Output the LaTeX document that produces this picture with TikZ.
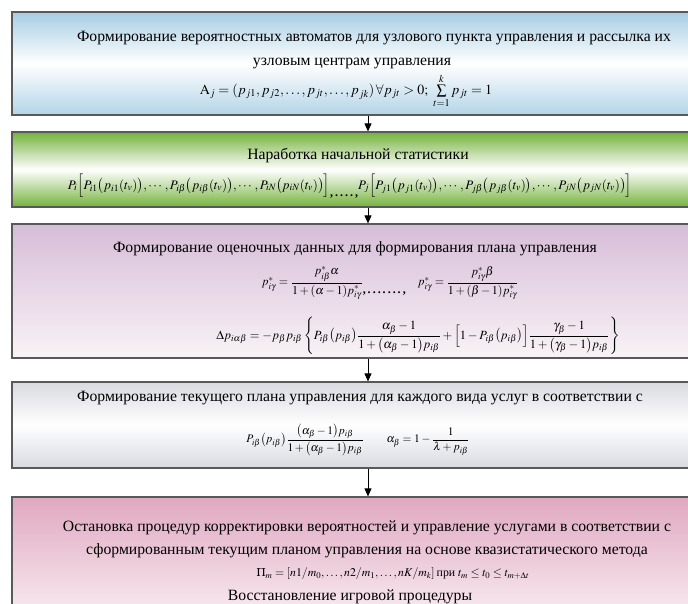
\documentclass[tikz,border=0pt]{standalone}
\usepackage{amsmath}
\usepackage{mathptmx}
\usepackage{fontspec}
\setmainfont{Liberation Serif}
\usetikzlibrary{arrows.meta}

\definecolor{skyedge}{HTML}{A6CDE3}
\definecolor{leafedge}{HTML}{74B23C}
\definecolor{lilactop}{HTML}{D7BDD8}
\definecolor{lilacbot}{HTML}{F8F3F6}
\definecolor{greyedge}{HTML}{D9DAE1}
\definecolor{rosetop}{HTML}{E0A8C0}
\definecolor{rosebot}{HTML}{FBF4F7}

\tikzset{
  stage/.style={draw=black!65, line width=1.2pt, minimum width=698pt, inner sep=0pt},
  skystage/.style={stage, top color=skyedge, bottom color=skyedge!85, middle color=white},
  leafstage/.style={stage, top color=leafedge, bottom color=leafedge, middle color=white},
  lilacstage/.style={stage, top color=lilactop, bottom color=lilacbot},
  greystage/.style={stage, top color=greyedge, bottom color=greyedge, middle color=white},
  rosestage/.style={stage, top color=rosetop, bottom color=rosebot},
  title/.style={font=\fontsize{15.7}{18}\selectfont, inner sep=0pt},
  formula/.style={font=\fontsize{12.5}{14}\selectfont, inner sep=0pt},
  flow/.style={-{Triangle[width=7pt,length=8pt]}, line width=0.9pt}
}

\begin{document}
\begin{tikzpicture}[x=1pt,y=-1pt]
        \useasboundingbox[fill=white] (0,0) rectangle (688,604);
        % stages
        \node[skystage, minimum height=103pt] (s1) at (361,63.5) {};
        \node[leafstage, minimum height=75pt] (s2) at (361,169.5) {};
        \node[lilacstage, minimum height=134pt] (s3) at (361,291) {};
        \node[greystage, minimum height=86pt] (s4) at (361,425) {};
        \node[rosestage, minimum height=134pt] (s5) at (361,564) {};
        % texts of stage 1
        \node[title] (t1a) at (374,38) {Формирование вероятностных автоматов для узлового пункта управления и рассылка их};
        \node[title] (t1b) at (352,63) {узловым центрам управления};
        \node[formula, font=\fontsize{14}{16}\selectfont] (f1) at (346,91) {$\mathrm{A}_j=(p_{j1},p_{j2},\dots,p_{jt},\dots,p_{jk})\,\forall p_{jt}>0;\ \sum\limits_{t=1}^{k}p_{jt}=1$};
        % texts of stage 2
        \node[title] (t2) at (358,156) {Наработка начальной статистики};
        \node[formula, font=\fontsize{13}{15}\selectfont] (f2) at (350,186) {$P_i\Bigl[P_{i1}\bigl(p_{i1}(t_v)\bigr),\cdots,P_{i\beta}\bigl(p_{i\beta}(t_v)\bigr),\cdots,P_{iN}\bigl(p_{iN}(t_v)\bigr)\Bigr]$\raisebox{-7pt}{\bfseries\large,\,.\,.\,.\,.\,,}$P_j\Bigl[P_{j1}\bigl(p_{j1}(t_v)\bigr),\cdots,P_{j\beta}\bigl(p_{j\beta}(t_v)\bigr),\cdots,P_{jN}\bigl(p_{jN}(t_v)\bigr)\Bigr]$};
        % texts of stage 3
        \node[title] (t3) at (355,249) {Формирование оценочных данных для формирования плана управления};
        \node[formula, font=\fontsize{12}{14}\selectfont] (f3a) at (390,283) {$p^*_{i\gamma}=\dfrac{p^*_{i\beta}\alpha}{1+(\alpha-1)p^*_{i\gamma}}$\raisebox{-8pt}{\bfseries\large,\,.\,.\,.\,.\,.\,.\,.\,,}\quad$p^*_{i\gamma}=\dfrac{p^*_{i\gamma}\beta}{1+(\beta-1)p^*_{i\gamma}}$};
        \node[formula] (f3b) at (418,336) {$\Delta p_{i\alpha\beta}=-p_\beta p_{i\beta}\left\{P_{i\beta}\bigl(p_{i\beta}\bigr)\dfrac{\alpha_\beta-1}{1+\bigl(\alpha_\beta-1\bigr)p_{i\beta}}+\Bigl[1-P_{i\beta}\bigl(p_{i\beta}\bigr)\Bigr]\dfrac{\gamma_\beta-1}{1+\bigl(\gamma_\beta-1\bigr)p_{i\beta}}\right\}$};
        % texts of stage 4
        \node[title] (t4) at (360,398) {Формирование текущего плана управления для каждого вида услуг в соответствии с};
        \node[formula, font=\fontsize{11.5}{13}\selectfont] (f4) at (358,440) {$P_{i\beta}\bigl(p_{i\beta}\bigr)\dfrac{\bigl(\alpha_\beta-1\bigr)p_{i\beta}}{1+\bigl(\alpha_\beta-1\bigr)p_{i\beta}}\qquad\alpha_\beta=1-\dfrac{1}{\lambda+p_{i\beta}}$};
        % texts of stage 5
        \node[title] (t5a) at (367,528) {Остановка процедур корректировки вероятностей и управление услугами в соответствии с};
        \node[title] (t5b) at (367,551) {сформированным текущим планом управления на основе квазистатического метода};
        \node[formula, font=\fontsize{11.8}{14}\selectfont] (f5) at (393,574) {$\Pi_m=[n1/m_0,\dots,n2/m_1,\dots,nK/m_k]$\,при $t_m\le t_0\le t_{m+\Delta t}$};
        \node[title] (t5c) at (350,597) {Восстановление игровой процедуры};
        % arrows
        \coordinate (ax) at (368,0);
        \draw[flow] (s1.south -| ax) -- (s2.north -| ax);
        \draw[flow] (s2.south -| ax) -- (s3.north -| ax);
        \draw[flow] (s3.south -| ax) -- (s4.north -| ax);
        \draw[flow] (s4.south -| ax) -- (s5.north -| ax);
\end{tikzpicture}
\end{document}
